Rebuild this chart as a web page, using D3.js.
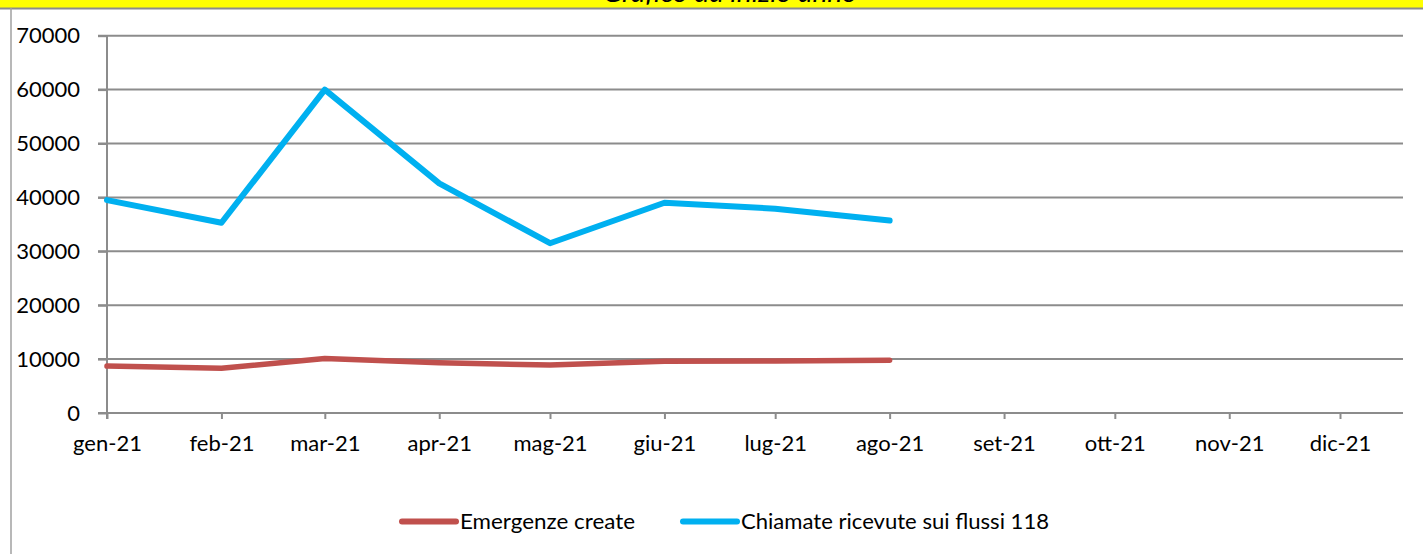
<!DOCTYPE html>
<html>
<head>
<meta charset="utf-8">
<script src="https://cdn.jsdelivr.net/npm/d3@7"></script>
<style>
  body { margin: 0; background: #fff; }
  svg { display: block; font-family: Lato, "Open Sans", sans-serif; }
</style>
</head>
<body>
<div id="chart"></div>
<script>
const months = ['2021-01-01', '2021-02-01', '2021-03-01', '2021-04-01', '2021-05-01', '2021-06-01',
    '2021-07-01', '2021-08-01', '2021-09-01', '2021-10-01', '2021-11-01', '2021-12-01'];
const monthLabels = ['gen-21', 'feb-21', 'mar-21', 'apr-21', 'mag-21', 'giu-21',
    'lug-21', 'ago-21', 'set-21', 'ott-21', 'nov-21', 'dic-21'];
const emergenze = [8700, 8300, 10100, 9300, 8900, 9600, 9650, 9800];
const chiamate = [39500, 35300, 60000, 42600, 31500, 39000, 37900, 35700];
const yTicks = [0, 10000, 20000, 30000, 40000, 50000, 60000, 70000];
const seriesNames = ['Emergenze create', 'Chiamate ricevute sui flussi 118'];

const width = 1423,
    height = 554;
const redColor = '#C0504D',
    blueColor = '#00B0F0',
    gridColor = '#8c8c8c';

const parseDate = d3.timeParse('%Y-%m-%d');
const dates = months.map(parseDate);

const svg = d3.select('#chart').append('svg')
    .attr('width', width)
    .attr('height', height);

// title bar (the title itself is mostly cut off, as in the original)
svg.append('clipPath').attr('id', 'titleClip')
    .append('rect').attr('x', 0).attr('y', 0).attr('width', width).attr('height', 8);
svg.append('rect')
    .attr('x', 0).attr('y', 0).attr('width', width).attr('height', 8)
    .attr('fill', '#FFFF00');
svg.append('text')
    .attr('clip-path', 'url(#titleClip)')
    .attr('x', 730).attr('y', 2)
    .attr('text-anchor', 'middle')
    .attr('font-size', 26)
    .attr('font-style', 'italic')
    .attr('textLength', 254)
    .attr('lengthAdjust', 'spacingAndGlyphs')
    .text('Grafico da inizio anno');
svg.append('line')
    .attr('x1', 0).attr('x2', width).attr('y1', 8.5).attr('y2', 8.5)
    .attr('stroke', '#8c8c8c').attr('stroke-width', 2);
svg.append('line')
    .attr('x1', 11).attr('x2', 11).attr('y1', 8).attr('y2', height)
    .attr('stroke', '#a0a0a0').attr('stroke-width', 1.5);

const x = d3.scaleTime()
    .domain([dates[0], dates[dates.length - 1]])
    .range([107, 1340]);
const y = d3.scaleLinear()
    .domain([0, 70000])
    .range([413, 35.7]);

// gridlines
svg.append('g').selectAll('line')
    .data(yTicks)
    .enter().append('line')
    .attr('x1', 98).attr('x2', 1403)
    .attr('y1', d => y(d)).attr('y2', d => y(d))
    .attr('stroke', gridColor).attr('stroke-width', 2);

// y axis
const yAxis = svg.append('g')
    .attr('transform', 'translate(107,0)')
    .call(d3.axisLeft(y).tickValues(yTicks).tickSize(9).tickPadding(18).tickFormat(d3.format('d')));
yAxis.select('.domain').remove();
yAxis.selectAll('.tick line').attr('stroke', gridColor).attr('stroke-width', 2);
yAxis.selectAll('text').attr('font-size', 22).attr('fill', '#000').attr('font-family', 'Lato, sans-serif');
svg.append('line')
    .attr('x1', 107).attr('x2', 107).attr('y1', y(70000)).attr('y2', 419)
    .attr('stroke', gridColor).attr('stroke-width', 2);

// x axis
const xAxis = svg.append('g')
    .attr('transform', 'translate(0,413)')
    .call(d3.axisBottom(x).tickValues(dates).tickSize(6).tickPadding(16)
        .tickFormat((d, i) => monthLabels[i]));
xAxis.select('.domain').remove();
xAxis.selectAll('.tick line').attr('stroke', gridColor).attr('stroke-width', 2);
xAxis.selectAll('text').attr('font-size', 22).attr('fill', '#000').attr('font-family', 'Lato, sans-serif');

// lines
const line = d3.line()
    .x((d, i) => x(dates[i]))
    .y(d => y(d));

svg.append('path')
    .datum(emergenze)
    .attr('d', line)
    .attr('fill', 'none')
    .attr('stroke', redColor)
    .attr('stroke-width', 5.5)
    .attr('stroke-linejoin', 'round')
    .attr('stroke-linecap', 'round');

svg.append('path')
    .datum(chiamate)
    .attr('d', line)
    .attr('fill', 'none')
    .attr('stroke', blueColor)
    .attr('stroke-width', 6)
    .attr('stroke-linejoin', 'round')
    .attr('stroke-linecap', 'round');

// legend
const legendItems = [
    { name: seriesNames[0], color: redColor, x: 402, len: 175 },
    { name: seriesNames[1], color: blueColor, x: 683, len: 308 }
];
const legend = svg.append('g').selectAll('g')
    .data(legendItems)
    .enter().append('g')
    .attr('transform', d => 'translate(' + d.x + ',521.5)');
legend.append('line')
    .attr('x1', 0).attr('x2', 54)
    .attr('stroke', d => d.color)
    .attr('stroke-width', 6)
    .attr('stroke-linecap', 'round');
legend.append('text')
    .attr('x', 58)
    .attr('dy', '0.35em')
    .attr('font-size', 22)
    .attr('textLength', d => d.len)
    .attr('lengthAdjust', 'spacingAndGlyphs')
    .text(d => d.name);
</script>
</body>
</html>
